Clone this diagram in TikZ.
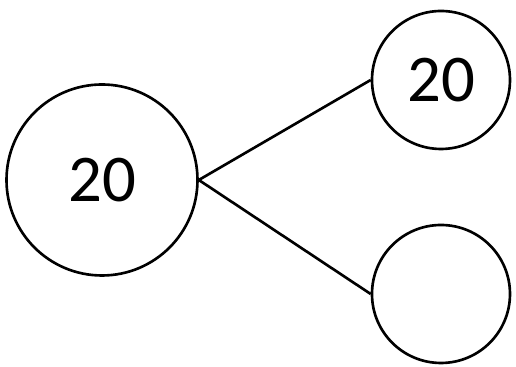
\documentclass[tikz,border=0pt]{standalone}
\usepackage{fontspec}
\setmainfont{Carlito}
\usetikzlibrary{positioning}

\begin{document}
\begin{tikzpicture}[
    whole/.style={
        circle,
        draw,
        line width=0.75pt,
        inner sep=0pt,
        minimum size=1.91cm,
        font=\fontsize{19}{22}\selectfont
    },
    part/.style={
        whole,
        minimum size=1.38cm
    },
    link/.style={line width=0.75pt}
]
\useasboundingbox (0,0) rectangle (5.16,3.67);

% Whole
\node[whole] (total) at (1.02,1.87) {20};

% Parts
\node[part] (partA) at (4.41,2.87) {20};
\node[part] (partB) at (4.41,0.73) {};

% Links
\draw[link] (total.east) -- (partA.west);
\draw[link] (total.east) -- (partB.west);

\end{tikzpicture}
\end{document}
